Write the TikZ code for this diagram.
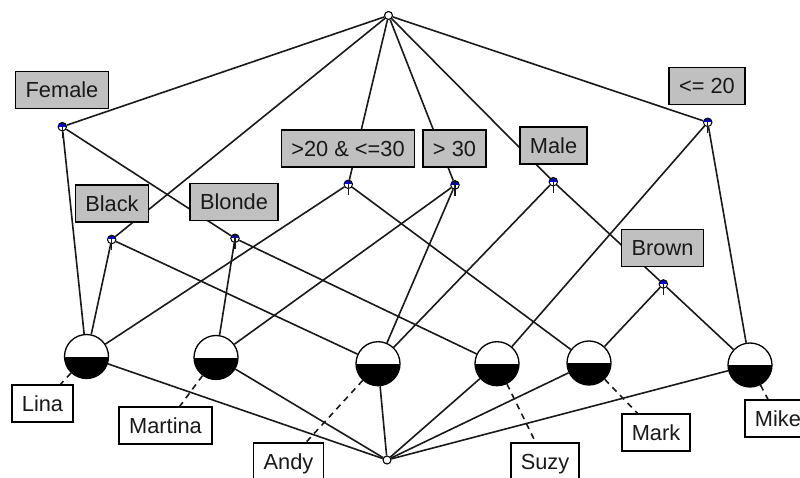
\documentclass[tikz,border=0pt]{standalone}
\usepackage{fontspec}
\setmainfont{Liberation Sans}
\definecolor{boxgray}{RGB}{192,192,192}
\definecolor{linegray}{RGB}{25,25,25}
\begin{document}
\begin{tikzpicture}[x=1pt,y=-1pt,
  edge/.style={line width=1.6pt, draw=linegray},
  tick/.style={line width=1.5pt, draw=linegray},
  dashedge/.style={line width=1.6pt, draw=linegray, dash pattern=on 6pt off 5pt},
  endpt/.style={circle, draw=black, line width=1.1pt, fill=white, minimum size=8pt, inner sep=0pt},
  attr/.style={circle, draw=black, line width=1pt, fill=white, minimum size=8.5pt, inner sep=0pt,
    path picture={\fill[blue] (path picture bounding box.north west) rectangle (path picture bounding box.east);}},
  obj/.style={circle, draw=black, line width=1.3pt, fill=white, minimum size=44pt, inner sep=0pt,
    path picture={\fill[black] (path picture bounding box.west) rectangle (path picture bounding box.south east);}},
  lblbase/.style={draw=black, line width=1.6pt, minimum height=37pt, inner xsep=10pt, inner ysep=0pt,
    text height=15.6pt, text depth=0pt, text=black!90, font=\fontsize{21.8}{26}\selectfont},
  attrlbl/.style={lblbase, fill=boxgray},
  objlbl/.style={lblbase, fill=white}]
\useasboundingbox (0,0) rectangle (800,478);
\clip (0,0) rectangle (800,478);
% concept nodes
\node[endpt] (top) at (388.5,15.5) {};
\node[endpt] (bot) at (387,460) {};
\node[attr] (female) at (62.3,126.7) {};
\node[attr] (black) at (111.7,239.5) {};
\node[attr] (blonde) at (235,238.3) {};
\node[attr] (a2030) at (348.3,184.3) {};
\node[attr] (a30) at (455,185) {};
\node[attr] (male) at (553.3,181.7) {};
\node[attr] (le20) at (707.7,122.3) {};
\node[attr] (brown) at (663.3,284) {};
\node[obj] (lina) at (86.5,356.5) {};
\node[obj] (martina) at (216,357.5) {};
\node[obj] (andy) at (378,363.7) {};
\node[obj] (suzy) at (497,363.7) {};
\node[obj] (mark) at (589,363) {};
\node[obj] (mike) at (750,365) {};
% edges
\foreach \a/\b in {top/female, top/black, top/a2030, top/a30, top/male, top/le20,
  female/lina, female/blonde, black/lina, black/andy, blonde/martina, blonde/suzy,
  a2030/lina, a2030/mark, a30/martina, a30/andy, male/andy, male/brown,
  le20/suzy, le20/mike, brown/mark, brown/mike,
  bot/lina, bot/martina, bot/andy, bot/suzy, bot/mark, bot/mike}
  \draw[edge] (\a) -- (\b);
% ticks above attribute concepts
\foreach \c in {female, black, blonde, a2030, a30, male, le20, brown}
  {\coordinate (\c T) at ([yshift=-11pt]\c.center);
   \draw[tick] (\c T) -- (\c.north);}
% attribute labels
\node[attrlbl] (femaleL) at (62,90) {Female};
\node[attrlbl] (blackL) at (112,203.5) {Black};
\node[attrlbl] (blondeL) at (234,202) {Blonde};
\node[attrlbl] (a2030L) at (348,148.5) {>20 \& <=30};
\node[attrlbl] (a30L) at (454.5,148.5) {> 30};
\node[attrlbl] (maleL) at (553.5,145.5) {Male};
\node[attrlbl] (le20L) at (707,86) {<= 20};
\node[attrlbl] (brownL) at (662.5,248) {Brown};
% object labels
\node[objlbl] (linaL) at (42.5,403.5) {Lina};
\node[objlbl] (martinaL) at (165.5,425.5) {Martina};
\node[objlbl] (andyL) at (288.5,461.5) {Andy};
\node[objlbl] (suzyL) at (545,461.5) {Suzy};
\node[objlbl] (markL) at (656,432.5) {Mark};
\node[objlbl] (mikeL) at (778,418.5) {Mike};
\foreach \a/\b in {lina/linaL, martina/martinaL, andy/andyL, suzy/suzyL, mark/markL, mike/mikeL}
  \draw[dashedge] (\a) -- (\b);
\end{tikzpicture}
\end{document}
